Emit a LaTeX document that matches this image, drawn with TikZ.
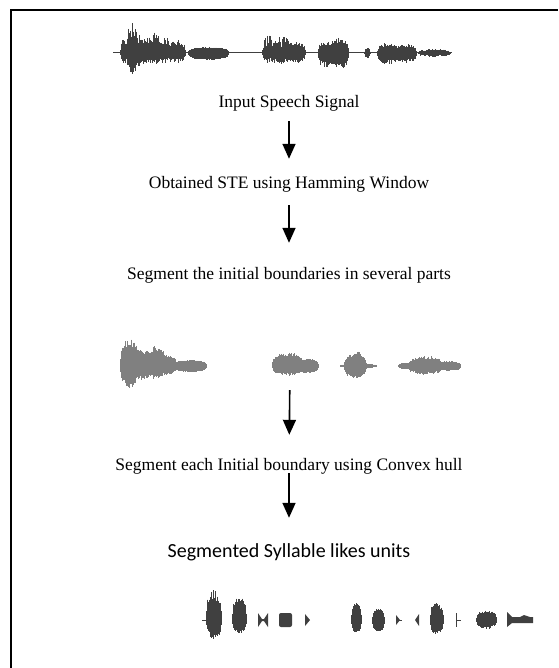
\documentclass[tikz,border=0pt]{standalone}
\usepackage{fontspec}
\setmainfont{Liberation Serif}
\newfontfamily\calibri{Carlito}
\usetikzlibrary{arrows.meta}

% one burst of a speech waveform: x1, x2, centre y, amplitude up, amplitude down, jitter
\newcommand{\burst}[6]{%
  \foreach \bx in {#1,...,#2}{%
    \pgfmathsetmacro{\benv}{sqrt(sqrt(sin(180*(\bx-#1)/(#2-#1))+0.01))}%
    \pgfmathsetmacro{\brnd}{1-#6*rnd}%
    \pgfmathsetmacro{\brnb}{1-#6*rnd}%
    \draw (\bx,#3-#4*\benv*\brnd) -- (\bx,#3+#5*\benv*\brnb);
  }}

\begin{document}
\begin{tikzpicture}[x=1pt, y=-1pt,
  txt/.style={anchor=base, inner sep=0pt, text height=11pt, text depth=3pt, font=\fontsize{17.5}{21}\selectfont},
  txtc/.style={anchor=base, inner sep=0pt, text height=13pt, text depth=3pt, font=\calibri\fontsize{20}{24}\selectfont},
  wave/.style={inner sep=0pt, minimum width=340pt},
  flow/.style={-{Triangle[length=15pt, width=13pt]}, line width=1.6pt},
  dark/.style={line width=1pt, draw=black!75, fill=black!75},
  light/.style={line width=1pt, draw=black!50, fill=black!50}
]
\useasboundingbox (0,0) rectangle (558,668);
\pgfmathsetseed{11}
% frame
\draw[line width=2pt] (11,668) -- (11,10) -- (558,10);

% input waveform
\node[wave, minimum height=56pt] (w1) at (283,50) {};
\begin{scope}[dark]
\draw[line width=1pt] (113,53) -- (452,53);
\burst{120}{127}{53}{14}{12}{0.5}
\burst{126}{137}{53}{31}{22}{0.5}
\burst{134}{146}{53}{19}{14}{0.5}
\burst{143}{152}{53}{16}{12}{0.5}
\burst{150}{160}{53}{21}{12}{0.5}
\burst{158}{172}{53}{15}{11}{0.5}
\burst{168}{185}{53}{13}{10}{0.5}
\burst{188}{228}{53}{6}{7}{0.15}
\burst{262}{278}{53}{18}{11}{0.6}
\burst{272}{292}{53}{16}{12}{0.6}
\burst{286}{305}{53}{11}{10}{0.3}
\burst{318}{334}{53}{13}{15}{0.4}
\burst{330}{348}{53}{16}{16}{0.4}
\burst{364}{370}{53}{5}{5}{0.2}
\burst{377}{398}{53}{10}{11}{0.4}
\burst{392}{416}{53}{9}{10}{0.4}
\burst{418}{450}{53}{4}{4}{0.4}
\end{scope}

\node[txt] (t1) at (289,108) {Input Speech Signal};
\node[txt] (t2) at (289,189) {Obtained STE using Hamming Window};
\node[txt] (t3) at (289,279) {Segment the initial boundaries in several parts};

% initial boundaries
\node[wave, minimum height=48pt] (w2) at (290,363) {};
\begin{scope}[light]
\burst{120}{138}{366}{27}{22}{0.3}
\burst{134}{150}{366}{17}{14}{0.3}
\burst{144}{165}{366}{20}{13}{0.3}
\burst{155}{176}{366}{11}{9}{0.2}
\burst{174}{206}{366}{6}{6}{0.1}
\burst{272}{302}{366}{14}{10}{0.35}
\burst{296}{318}{366}{7}{7}{0.1}
\burst{340}{376}{366}{2}{2}{0}
\burst{344}{366}{366}{12}{12}{0.2}
\burst{352}{362}{366}{15}{12}{0.2}
\burst{398}{412}{366}{3}{3}{0}
\burst{408}{442}{366}{10}{9}{0.3}
\burst{438}{460}{366}{5}{5}{0.2}
\end{scope}

\node[txt] (t4) at (289,470) {Segment each Initial boundary using Convex hull};
\node[txtc] (t5) at (289,557) {Segmented Syllable likes units};

% syllable like units
\node[wave, minimum height=50pt] (w3) at (367,615) {};
\begin{scope}[dark]
\draw[line width=0.8pt] (202,620) -- (207,620);
\burst{206}{221}{620}{30}{20}{0.35}
\burst{232}{246}{620}{23}{13}{0.2}
\fill (258,613) -- (262,619) -- (264,619) -- (268,613) -- (268,627) -- (264,621) -- (262,621) -- (258,627) -- cycle;
\fill[rounded corners=2pt] (279,613) rectangle (292,627);
\fill (305,614) -- (310,620) -- (305,626) -- cycle;
\burst{351}{361}{620}{17}{13}{0.15}
\burst{372}{384}{620}{11}{12}{0.1}
\fill (396,615) -- (400,620) -- (396,625) -- cycle;
\draw[line width=0.8pt] (396,620) -- (402,620);
\fill (419,614) -- (415,620) -- (419,626) -- cycle;
\burst{430}{443}{620}{18}{15}{0.3}
\draw[line width=1pt] (456,613) -- (456,627) (456,620) -- (461,620);
\burst{476}{496}{620}{10}{9}{0.3}
\fill (507,612) -- (512,617) -- (520,617) -- (524,615) -- (530,617) -- (533,617) -- (533,623) -- (512,623) -- (507,627) -- cycle;
\end{scope}

\draw[flow, shorten <=10pt, shorten >=19pt] (t1) -- (t2);
\draw[flow, shorten <=13pt, shorten >=25pt] (t2) -- (t3);
\draw[flow, shorten <=3pt, shorten >=24pt] (w2) -- (t4);
\draw[flow, shorten <=0pt, shorten >=26pt] (t4) -- (t5);
\end{tikzpicture}
\end{document}
